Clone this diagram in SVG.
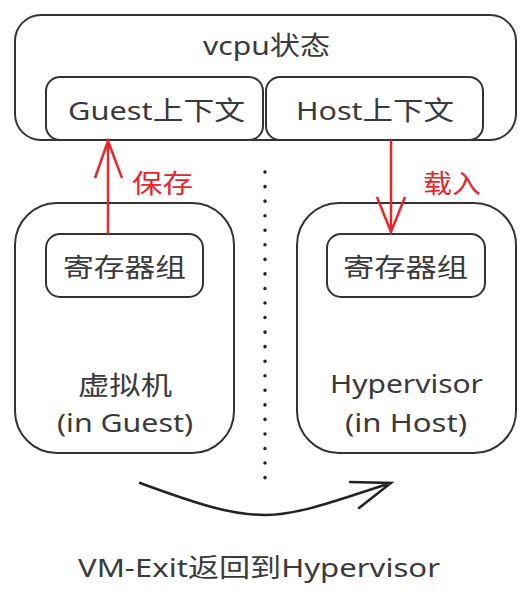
<svg xmlns="http://www.w3.org/2000/svg" width="531" height="605" viewBox="0 0 531 605">
<defs>
<style>
.box{fill:#fff;stroke:#333;stroke-width:2}
.t{font-family:"Noto Sans","Noto Sans CJK SC",sans-serif;fill:#3a3a3a;font-size:26px;text-anchor:middle}
.r{fill:#e8262b;text-anchor:start}
.red{fill:none;stroke:#e8262b;stroke-width:2.5}
.blk{fill:none;stroke:#222;stroke-width:2.5;stroke-linecap:round}
</style>
</defs>
<rect width="531" height="605" fill="#fff"/>
<g id="vcpu">
<rect class="box" x="15" y="15" width="501" height="125" rx="26"/>
<text class="t" x="266.5" y="55" textLength="127" lengthAdjust="spacingAndGlyphs">vcpu状态</text>
</g>
<g id="guest-ctx">
<rect class="box" x="46" y="77" width="217" height="63" rx="14"/>
<text class="t" x="156.5" y="120" font-size="27" textLength="177" lengthAdjust="spacingAndGlyphs">Guest上下文</text>
</g>
<g id="host-ctx">
<rect class="box" x="266" y="77" width="217" height="63" rx="14"/>
<text class="t" x="375" y="120" font-size="27" textLength="158" lengthAdjust="spacingAndGlyphs">Host上下文</text>
</g>
<g id="vm">
<rect class="box" x="15" y="203" width="219" height="250" rx="42"/>
<text class="t" x="125" y="395" textLength="94" lengthAdjust="spacingAndGlyphs">虚拟机</text>
<text class="t" x="125" y="432" textLength="136" lengthAdjust="spacingAndGlyphs">(in Guest)</text>
</g>
<g id="vm-regs">
<rect class="box" x="46" y="234" width="157" height="63" rx="14"/>
<text class="t" x="124.5" y="277" textLength="123" lengthAdjust="spacingAndGlyphs">寄存器组</text>
</g>
<g id="hyp">
<rect class="box" x="297" y="203" width="219" height="250" rx="42"/>
<text class="t" x="406.5" y="393" textLength="153" lengthAdjust="spacingAndGlyphs">Hypervisor</text>
<text class="t" x="406" y="432" textLength="122" lengthAdjust="spacingAndGlyphs">(in Host)</text>
</g>
<g id="hyp-regs">
<rect class="box" x="327" y="234" width="158" height="63" rx="14"/>
<text class="t" x="405.5" y="277" textLength="125" lengthAdjust="spacingAndGlyphs">寄存器组</text>
</g>
<g id="connectors">
<line x1="265" y1="172" x2="265" y2="484" stroke="#222" stroke-width="3.5" stroke-linecap="round" stroke-dasharray="0.1 14.45"/>
<path class="red" d="M108 234V141M95 178L108 141L122 178"/>
<text class="t r" x="132" y="193" font-size="27" textLength="61" lengthAdjust="spacingAndGlyphs">保存</text>
<path class="red" d="M391 140V232M377 197L391 232L405 197"/>
<text class="t r" x="423" y="193" font-size="27" textLength="58" lengthAdjust="spacingAndGlyphs">载入</text>
<path class="blk" d="M140 483C200 505 232 515 265 515C300 515 340 499 391 483M350 482L391 483L359 508"/>
</g>
<text class="t" x="259" y="577" font-size="28" textLength="362" lengthAdjust="spacingAndGlyphs">VM-Exit返回到Hypervisor</text>
</svg>
